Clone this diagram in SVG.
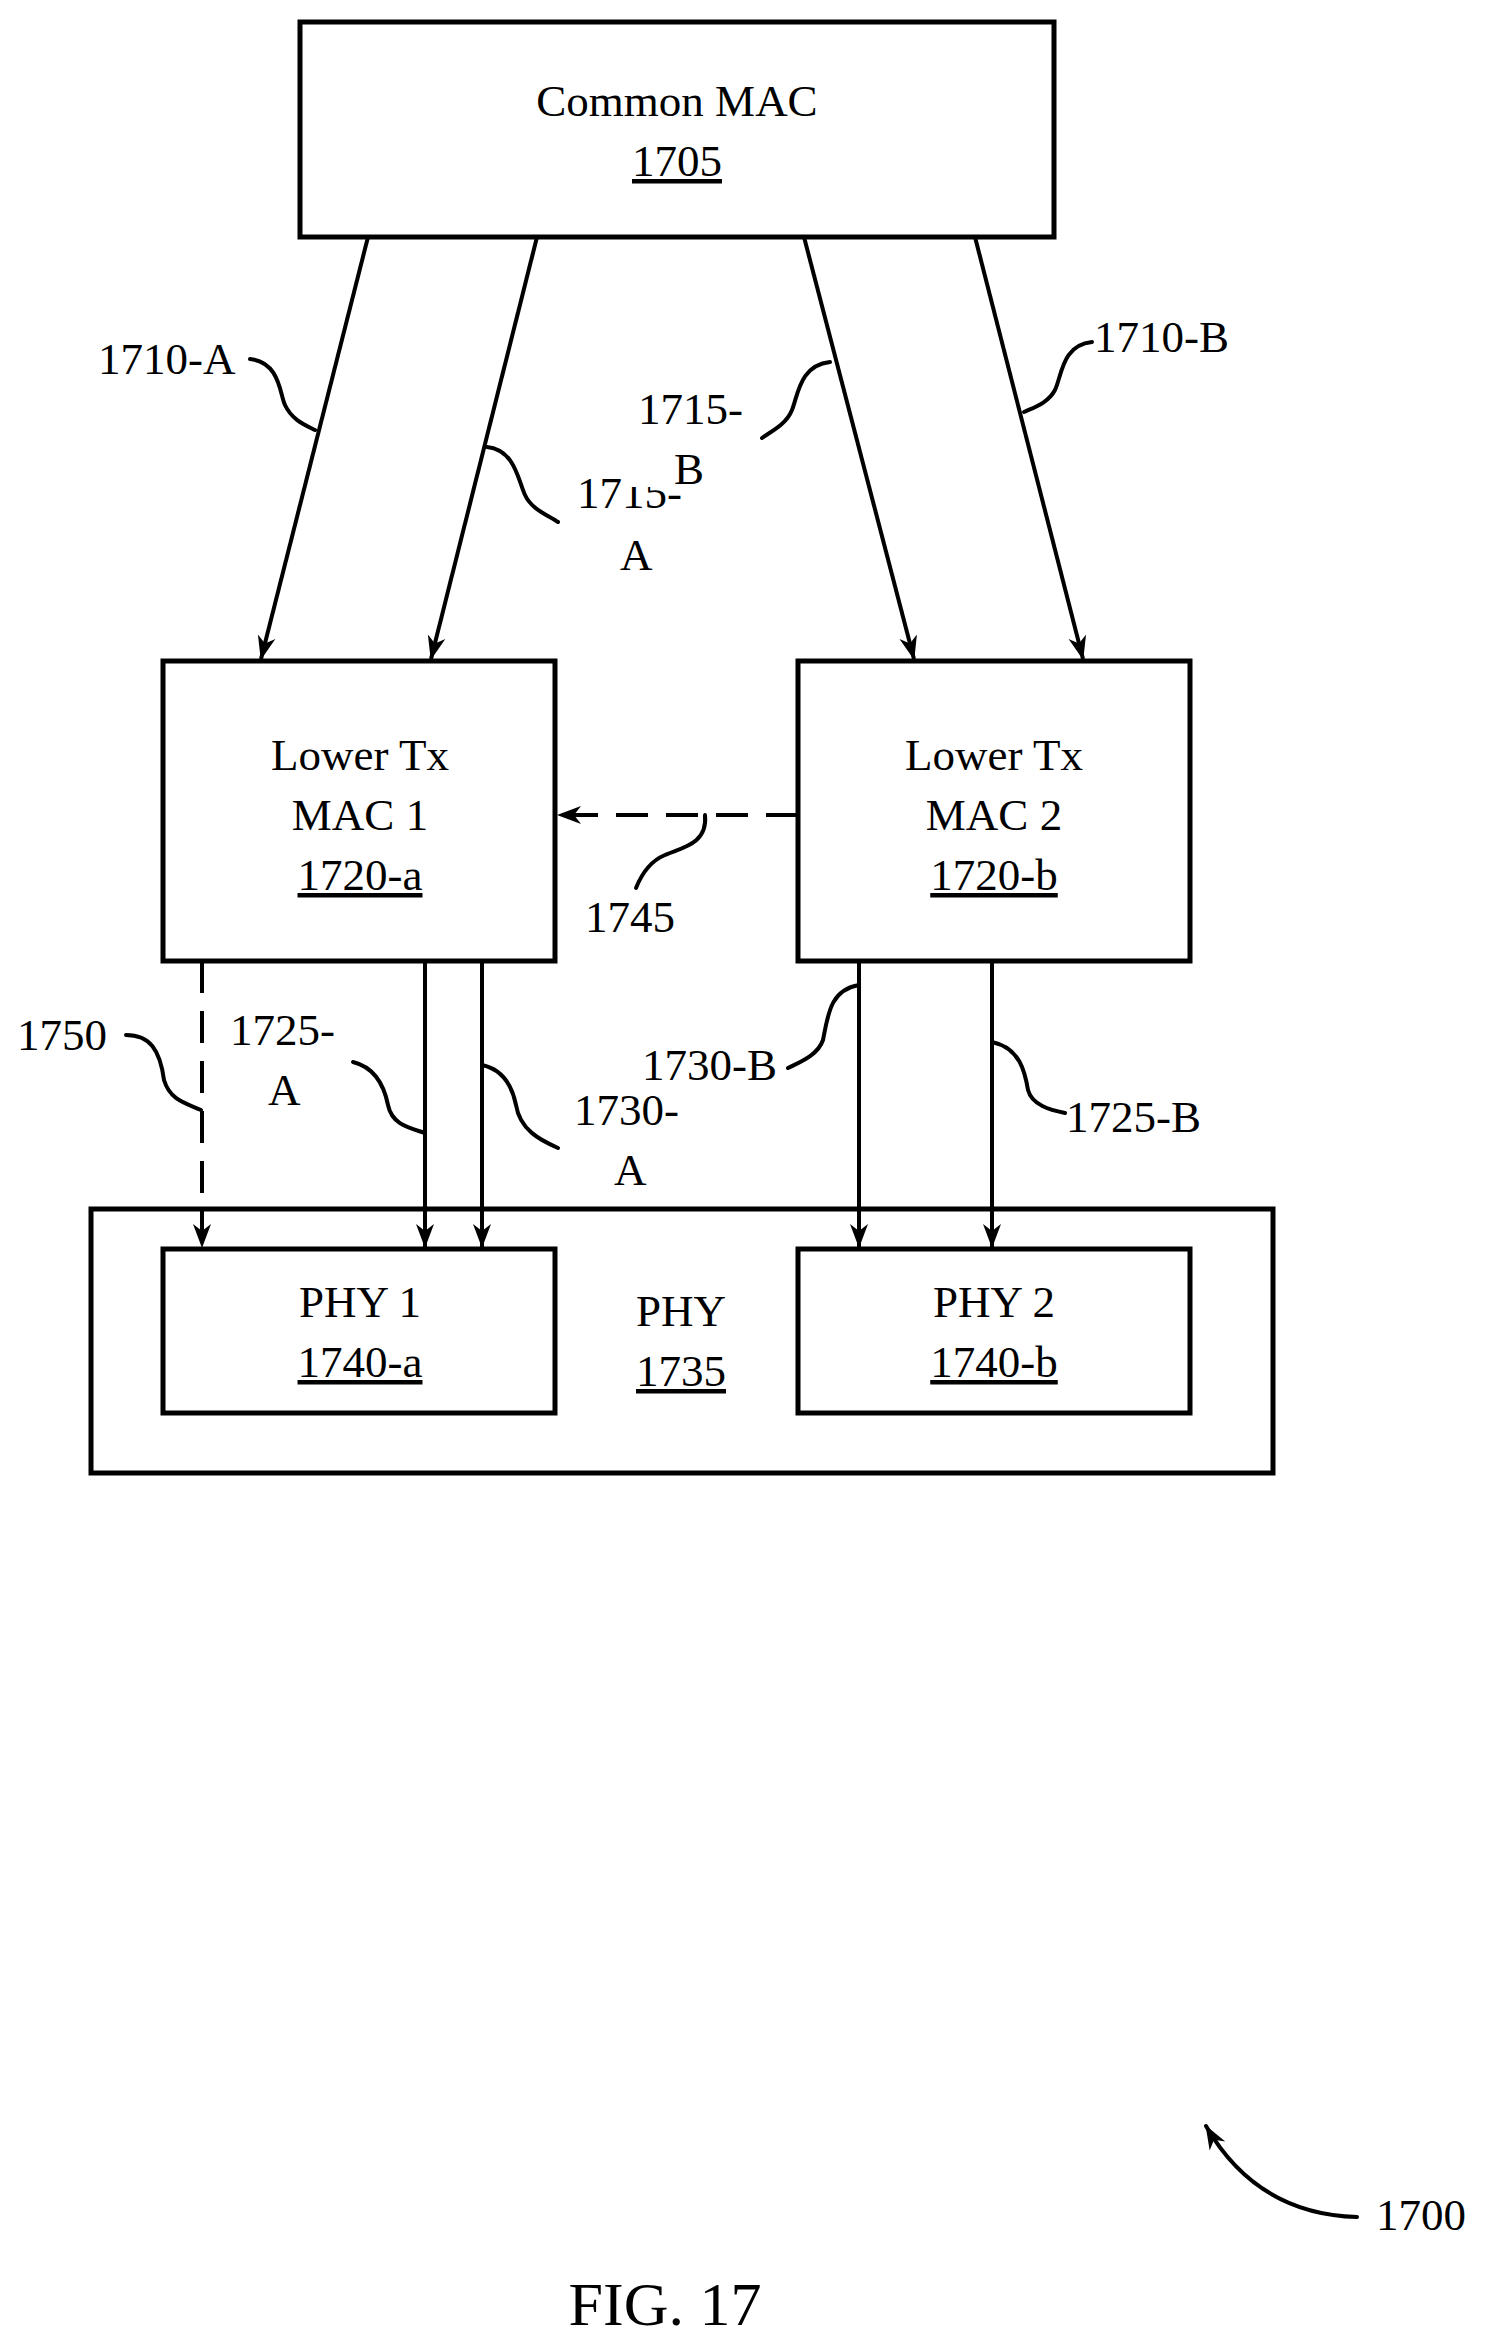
<svg xmlns="http://www.w3.org/2000/svg" width="1499" height="2341" viewBox="0 0 1499 2341">
<style>
text{font-family:"Liberation Serif","Times New Roman",serif;font-size:45px;fill:#000}
.c{text-anchor:middle}
.box{fill:none;stroke:#000;stroke-width:5}
.ln{fill:none;stroke:#000;stroke-width:4}
.ds{fill:none;stroke:#000;stroke-width:4;stroke-dasharray:32 18}
.ld{fill:none;stroke:#000;stroke-width:4;stroke-linecap:round}
</style>
<defs>
<marker id="ah" viewBox="0 0 24 20" refX="23" refY="10" markerWidth="24" markerHeight="20" markerUnits="userSpaceOnUse" orient="auto">
<path d="M0,1 L24,10 L0,19 L7,10 Z" fill="#000"/>
</marker>
</defs>
<rect width="1499" height="2341" fill="#fff"/>
<g id="n1705"><rect class="box" x="300" y="22" width="754" height="215"/>
<text class="c" x="677" y="116">Common MAC</text><text class="c" x="677" y="176" text-decoration="underline">1705</text></g>
<g id="n1720a"><rect class="box" x="163" y="661" width="392" height="300"/>
<text class="c" x="360" y="770">Lower Tx</text><text class="c" x="360" y="830">MAC 1</text><text class="c" x="360" y="890" text-decoration="underline">1720-a</text></g>
<g id="n1720b"><rect class="box" x="798" y="661" width="392" height="300"/>
<text class="c" x="994" y="770">Lower Tx</text><text class="c" x="994" y="830">MAC 2</text><text class="c" x="994" y="890" text-decoration="underline">1720-b</text></g>
<g id="n1735"><rect class="box" x="91" y="1209" width="1182" height="264"/>
<text class="c" x="681" y="1326">PHY</text><text class="c" x="681" y="1386" text-decoration="underline">1735</text></g>
<g id="n1740a"><rect class="box" x="163" y="1249" width="392" height="164"/>
<text class="c" x="360" y="1317">PHY 1</text><text class="c" x="360" y="1377" text-decoration="underline">1740-a</text></g>
<g id="n1740b"><rect class="box" x="798" y="1249" width="392" height="164"/>
<text class="c" x="994" y="1317">PHY 2</text><text class="c" x="994" y="1377" text-decoration="underline">1740-b</text></g>
<g id="connectors">
<path class="ln" d="M368,237 L261,659" marker-end="url(#ah)"/>
<path class="ln" d="M537,237 L431,659" marker-end="url(#ah)"/>
<path class="ln" d="M804,237 L914,659" marker-end="url(#ah)"/>
<path class="ln" d="M975,237 L1083,659" marker-end="url(#ah)"/>
<path class="ds" d="M798,815 L558,815" marker-end="url(#ah)"/>
<path class="ds" d="M202,961 L202,1247" marker-end="url(#ah)"/>
<path class="ln" d="M425,961 L425,1247" marker-end="url(#ah)"/>
<path class="ln" d="M482,961 L482,1247" marker-end="url(#ah)"/>
<path class="ln" d="M859,961 L859,1247" marker-end="url(#ah)"/>
<path class="ln" d="M992,961 L992,1247" marker-end="url(#ah)"/>
<path class="ld" d="M250,359 C280,362 280,395 285,405 C292,420 305,425 315,430"/>
<path class="ld" d="M487,447 C515,450 518,480 525,495 C532,510 548,515 558,522"/>
<path class="ld" d="M830,362 C800,365 798,395 792,410 C786,425 770,432 762,438"/>
<path class="ld" d="M1092,342 C1062,345 1062,375 1055,390 C1048,403 1035,407 1024,412"/>
<path class="ld" d="M705,815 C708,845 680,848 665,855 C648,862 640,878 636,888"/>
<path class="ld" d="M126,1035 C150,1035 160,1050 164,1080 C170,1100 185,1103 201,1110"/>
<path class="ld" d="M353,1062 C377,1068 385,1090 388,1105 C392,1125 410,1128 425,1133"/>
<path class="ld" d="M482,1065 C505,1070 513,1090 516,1105 C520,1130 540,1140 558,1148"/>
<path class="ld" d="M859,985 C830,990 828,1015 823,1040 C818,1055 800,1062 788,1068"/>
<path class="ld" d="M992,1042 C1020,1048 1025,1072 1028,1090 C1032,1105 1050,1110 1065,1113"/>
<path class="ld" d="M1357,2217 C1290,2215 1240,2185 1206,2126" marker-end="url(#ah)"/>
</g>
<g id="labels">
<text x="98" y="374">1710-A</text>
<text x="577" y="508">1715-</text>
<rect x="622" y="460" width="60" height="27" fill="#fff"/>
<text x="620" y="570">A</text>
<text x="638" y="424">1715-</text>
<text x="674" y="484">B</text>
<text x="1094" y="352">1710-B</text>
<text x="585" y="932">1745</text>
<text x="17" y="1050">1750</text>
<text x="230" y="1045">1725-</text>
<text x="268" y="1105">A</text>
<text x="574" y="1125">1730-</text>
<text x="614" y="1185">A</text>
<text x="642" y="1080">1730-B</text>
<text x="1066" y="1132">1725-B</text>
<text x="1376" y="2230">1700</text>
<text class="c" x="665" y="2325" style="font-size:62px">FIG. 17</text>
</g>
</svg>
